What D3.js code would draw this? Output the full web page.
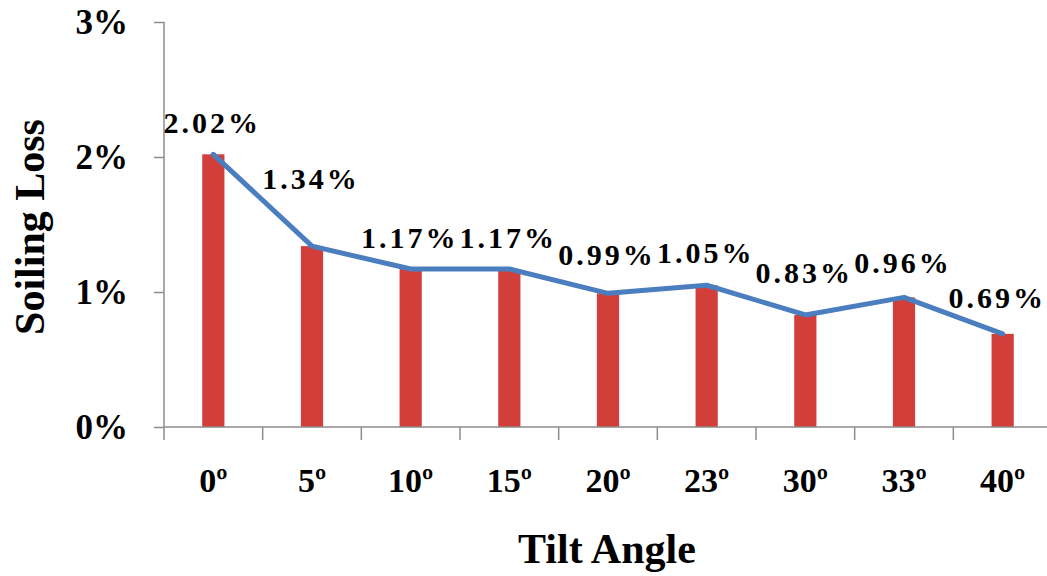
<!DOCTYPE html>
<html>
<head>
<meta charset="utf-8">
<script src="https://cdn.jsdelivr.net/npm/d3@7"></script>
<style>
  html, body { margin: 0; padding: 0; background: #ffffff; }
  svg { display: block; }
  text { font-family: "Liberation Serif", "Times New Roman", serif; font-weight: bold; fill: #000; }
</style>
</head>
<body>
<svg id="chart" width="1047" height="576"></svg>
<script>
// Soiling loss by panel tilt angle
const angles = ["0º", "5º", "10º", "15º", "20º", "23º", "30º", "33º", "40º"];
const soilingLoss = [2.02, 1.34, 1.17, 1.17, 0.99, 1.05, 0.83, 0.96, 0.69];
const yTicks = [0, 1, 2, 3];
// vertical offset of each value label above its bar top
const labelLift = [21, 57, 21, 21, 28, 22, 32, 24, 26];

const svg = d3.select("#chart");
const margin = { left: 164, right: -5, top: 22, bottom: 149 };
const W = 1047, H = 576;

const x = d3.scaleBand()
  .domain(angles)
  .range([margin.left, W - margin.right])
  .paddingInner(0.775)
  .paddingOuter(0.3875);

const xTickScale = d3.scaleBand().domain(angles).range([margin.left, W - margin.right]);

const y = d3.scaleLinear()
  .domain([0, 3])
  .range([H - margin.bottom, margin.top]);

const axisColor = "#8c8c8c";

// y axis
const yAxis = svg.append("g")
  .attr("transform", `translate(${margin.left},0)`)
  .call(d3.axisLeft(y).tickValues(yTicks).tickSize(10).tickFormat(d => d + "%"));
yAxis.select(".domain").attr("stroke", axisColor).attr("stroke-width", 1.5).attr("d", `M0,${y(3)}V${y(0)}`);
yAxis.selectAll(".tick line").attr("stroke", axisColor).attr("stroke-width", 1.5);
yAxis.selectAll(".tick text")
  .attr("x", -36)
  .attr("dy", "0.34em")
  .style("font-size", "35px")
  .style("font-family", "Liberation Serif, serif")
  .style("font-weight", "bold")
  .attr("fill", "#000");

// bars
svg.append("g").selectAll("rect")
  .data(soilingLoss)
  .join("rect")
  .attr("x", (d, i) => x(angles[i]))
  .attr("width", x.bandwidth())
  .attr("y", d => y(d))
  .attr("height", d => y(0) - y(d))
  .attr("fill", "#d23f3b");

// x axis line and tick marks at category boundaries
const xg = svg.append("g");
xg.append("line")
  .attr("x1", margin.left).attr("x2", W)
  .attr("y1", y(0)).attr("y2", y(0))
  .attr("stroke", axisColor).attr("stroke-width", 1.5);
xg.selectAll("line.tk")
  .data(angles)
  .join("line")
  .attr("class", "tk")
  .attr("x1", d => xTickScale(d)).attr("x2", d => xTickScale(d))
  .attr("y1", y(0)).attr("y2", y(0) + 13)
  .attr("stroke", axisColor).attr("stroke-width", 1.5);
xg.selectAll("text")
  .data(angles)
  .join("text")
  .attr("x", d => x(d) + x.bandwidth() / 2)
  .attr("y", 492)
  .attr("text-anchor", "middle")
  .style("font-size", "34px")
  .text(d => d);

// trend line through the bar tops
const line = d3.line()
  .x((d, i) => x(angles[i]) + x.bandwidth() / 2)
  .y(d => y(d));
svg.append("path")
  .datum(soilingLoss)
  .attr("d", line)
  .attr("fill", "none")
  .attr("stroke", "#4a7ebf")
  .attr("stroke-width", 5)
  .attr("stroke-linejoin", "round")
  .attr("stroke-linecap", "round");

// value labels
const valueLabels = svg.append("g").selectAll("text")
  .data(soilingLoss)
  .join("text")
  .attr("x", (d, i) => x(angles[i]) + x.bandwidth() / 2 - 1)
  .attr("y", (d, i) => y(d) - labelLift[i])
  .attr("text-anchor", "middle")
  .style("font-size", "30px")
  .style("letter-spacing", "3px")
  .text(d => d.toFixed(2) + "%");

// nudge any value label that would run past the right edge
valueLabels.each(function () {
  const b = this.getBBox();
  if (b.x + b.width > W - 1) {
    d3.select(this).attr("x", +d3.select(this).attr("x") - (b.x + b.width - (W - 1)));
  }
});

// axis titles
svg.append("text")
  .attr("x", 607).attr("y", 563)
  .attr("text-anchor", "middle")
  .style("font-size", "42px")
  .text("Tilt Angle");

svg.append("text")
  .attr("transform", "translate(44,227) rotate(-90)")
  .attr("text-anchor", "middle")
  .style("font-size", "42px")
  .text("Soiling Loss");
</script>
</body>
</html>
